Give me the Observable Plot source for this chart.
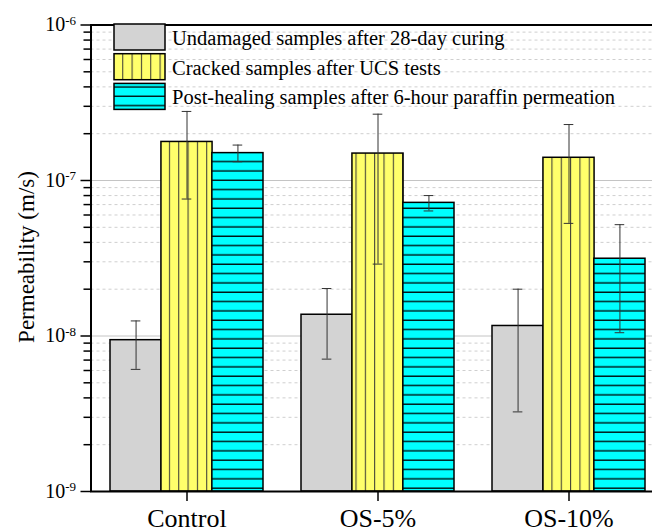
<!DOCTYPE html>
<html>
<head>
<meta charset="utf-8">
<script src="https://cdn.jsdelivr.net/npm/d3@7"></script>
<script src="https://cdn.jsdelivr.net/npm/@observablehq/plot@0.6"></script>
<style>
  html, body { margin: 0; padding: 0; background: white; overflow: hidden; }
  #chart { width: 652px; height: 530px; }
</style>
</head>
<body>
<div id="chart"></div>
<script>
// ---- data ----
const groups = ["Control", "OS-5%", "OS-10%"];
const seriesNames = [
  "Undamaged samples after 28-day curing",
  "Cracked samples after UCS tests",
  "Post-healing samples after 6-hour paraffin permeation"
];
const undamaged   = [9.4e-9, 1.37e-8, 1.16e-8];
const undamagedLo = [6.1e-9, 7.1e-9, 3.25e-9];
const undamagedHi = [1.25e-8, 2.02e-8, 2.0e-8];
const cracked     = [1.77e-7, 1.49e-7, 1.40e-7];
const crackedLo   = [7.6e-8, 2.9e-8, 5.3e-8];
const crackedHi   = [2.78e-7, 2.67e-7, 2.29e-7];
const healed      = [1.50e-7, 7.18e-8, 3.14e-8];
const healedLo    = [1.32e-7, 6.37e-8, 1.05e-8];
const healedHi    = [1.69e-7, 8.0e-8, 5.2e-8];
const majorTicks = [1e-9, 1e-8, 1e-7, 1e-6];
const yDomain = [1e-9, 1e-6];

// ---- build table ----
const values = [undamaged, cracked, healed];
const los = [undamagedLo, crackedLo, healedLo];
const his = [undamagedHi, crackedHi, healedHi];
const rows = [];
seriesNames.forEach((s, i) => groups.forEach((g, j) => rows.push({
  group: g, series: i, value: values[i][j], lo: los[i][j], hi: his[i][j]
})));
const minorTicks = [];
for (let e = -9; e < -6; e++) for (let m = 2; m <= 9; m++) minorTicks.push(m * Math.pow(10, e));

const fills = ["#d3d3d3", "url(#hatchV)", "url(#hatchH)"];
const width = 652, height = 530;
const marginLeft = 90.5, marginRight = -11.5;
const step = (width - marginRight - marginLeft) / 3;
const BW = step * 0.8;       // band width
const SUB = BW / 3;          // width of one bar in a group
const CAP = 4.7;

const marks = [
  Plot.gridY(minorTicks, {stroke: "#cfcfcf", strokeOpacity: 1, strokeDasharray: "3,3"}),
  Plot.gridY(majorTicks, {stroke: "#c4c4c4", strokeOpacity: 1})
];
seriesNames.forEach((s, i) => {
  const data = rows.filter(r => r.series === i);
  marks.push(Plot.barY(data, {
    x: "group", y1: () => yDomain[0], y2: "value",
    fill: fills[i], stroke: "black", strokeWidth: 1.5,
    insetLeft: i * SUB, insetRight: (2 - i) * SUB
  }));
});
seriesNames.forEach((s, i) => {
  const data = rows.filter(r => r.series === i);
  const c = (i + 0.5) * SUB;
  marks.push(Plot.ruleX(data, {x: "group", y1: "lo", y2: "hi", dx: c - BW / 2, stroke: "#333", strokeWidth: 1}));
  marks.push(Plot.tickY(data, {x: "group", y: "lo", insetLeft: c - CAP, insetRight: BW - c - CAP, stroke: "#333", strokeWidth: 1}));
  marks.push(Plot.tickY(data, {x: "group", y: "hi", insetLeft: c - CAP, insetRight: BW - c - CAP, stroke: "#333", strokeWidth: 1}));
});
marks.push(
  Plot.frame({stroke: "black", strokeWidth: 2}),
  Plot.axisY(majorTicks, {tickSize: 10, tickPadding: 5, fontSize: 20, strokeWidth: 1.5, stroke: "black",
    tickFormat: d => "10^" + Math.round(Math.log10(d)), label: null}),
  Plot.axisY(minorTicks, {tickSize: 7, strokeWidth: 1.5, stroke: "black", tickFormat: () => "", label: null}),
  Plot.axisX({tickSize: 10, tickPadding: 7, fontSize: 26, strokeWidth: 1.5, stroke: "black", label: null})
);

const svg = Plot.plot({
  width, height,
  marginLeft, marginRight, marginTop: 24.5, marginBottom: 39,
  style: {fontFamily: "'Liberation Serif', 'Times New Roman', serif", color: "black", background: "white", overflow: "hidden"},
  x: {type: "band", domain: groups, paddingInner: 0.2, paddingOuter: 0.1},
  y: {type: "log", domain: yDomain},
  marks
});

// ---- patterns ----
const s = d3.select(svg);
const defs = s.insert("defs", ":first-child");
const pv = defs.append("pattern").attr("id", "hatchV").attr("patternUnits", "userSpaceOnUse")
  .attr("width", 9.33).attr("height", 10);
pv.append("rect").attr("width", 9.33).attr("height", 10).attr("fill", "#ffff6b");
pv.append("line").attr("x1", 1.5).attr("x2", 1.5).attr("y1", 0).attr("y2", 10).attr("stroke", "#333").attr("stroke-width", 1);
const ph = defs.append("pattern").attr("id", "hatchH").attr("patternUnits", "userSpaceOnUse")
  .attr("width", 10).attr("height", 9.33);
ph.append("rect").attr("width", 10).attr("height", 9.33).attr("fill", "#00ffff");
ph.append("line").attr("x1", 0).attr("x2", 10).attr("y1", 3).attr("y2", 3).attr("stroke", "black").attr("stroke-width", 1.3);

// ---- superscript tick labels ----
s.selectAll('g[aria-label="y-axis tick label"] text').each(function() {
  const t = d3.select(this);
  const txt = t.text();
  if (!txt.includes("^")) return;
  const [base, exp] = txt.split("^");
  t.text(base);
  t.append("tspan").attr("dy", "-0.5em").attr("font-size", 13).text(exp);
});

// ---- y axis title ----
s.append("text")
  .attr("transform", "translate(34,257) rotate(-90)")
  .attr("text-anchor", "middle")
  .attr("font-size", 23)
  .attr("fill", "black")
  .text("Permeability (m/s)");

// ---- legend ----
const lg = s.append("g").attr("font-size", 20.5).attr("fill", "black").attr("text-anchor", "start");
seriesNames.forEach((name, i) => {
  const y0 = 24 + i * 29.7;
  lg.append("rect").attr("x", 114).attr("y", y0).attr("width", 51).attr("height", 26)
    .attr("fill", fills[i]).attr("stroke", "black").attr("stroke-width", 1.5);
  lg.append("text").attr("x", 172).attr("y", y0 + 21).attr("text-anchor", "start").text(name);
});

document.getElementById("chart").appendChild(svg);
</script>
</body>
</html>
